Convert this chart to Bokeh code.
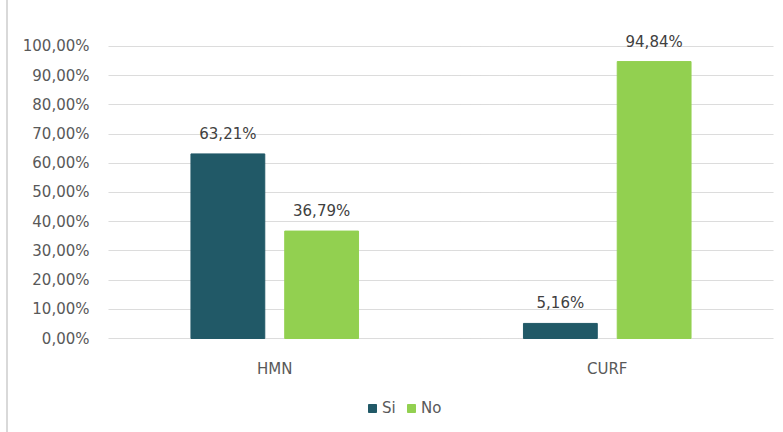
from bokeh.plotting import figure
from bokeh.models import (ColumnDataSource, FactorRange, Range1d, FixedTicker,
                          Legend, LegendItem)
from bokeh.transform import dodge
from bokeh.core.properties import value
from bokeh.embed import file_html
from bokeh.resources import INLINE

categories = ["HMN", "CURF"]
si_values = [63.21, 5.16]
no_values = [36.79, 94.84]
y_ticks = [0, 10, 20, 30, 40, 50, 60, 70, 80, 90, 100]

FONT = "DejaVu Sans"
FONT_SIZE = "15px"
SI_COLOR = "#215967"
NO_COLOR = "#92D050"
TEXT_COLOR = "#595959"


def pct(v):
    return f"{v:.2f}".replace(".", ",") + "%"


src = ColumnDataSource(dict(
    cat=categories,
    si=si_values,
    no=no_values,
    si_lbl=[pct(v) for v in si_values],
    no_lbl=[pct(v) for v in no_values],
))

# the frame runs to the bottom edge so the category labels and the legend
# can sit below the 0% line; headroom on top keeps the tallest label visible
y_start, y_end = -32.19, 108.9

p = figure(
    width=775, height=432,
    x_range=FactorRange(factors=categories, range_padding=0),
    y_range=Range1d(y_start, y_end),
    output_backend="svg", toolbar_location=None,
    min_border_left=100, min_border_right=10,
    min_border_top=20, min_border_bottom=0,
    outline_line_color=None,
)
# thin grey rule along the left edge of the chart
p.styles = {"margin-left": "6px", "border-left": "2px solid #d9d9d9"}

bar_w = 0.222
off = 0.141
r_si = p.vbar(x=dodge("cat", -off, range=p.x_range), top="si", bottom=0,
              width=bar_w, source=src, fill_color=SI_COLOR, line_color=SI_COLOR)
r_no = p.vbar(x=dodge("cat", off, range=p.x_range), top="no", bottom=0,
              width=bar_w, source=src, fill_color=NO_COLOR, line_color=NO_COLOR)

# value labels above each bar
for key, lbl, o in (("si", "si_lbl", -off), ("no", "no_lbl", off)):
    p.text(x=dodge("cat", o, range=p.x_range), y=key, text=lbl, source=src,
           text_align="center", text_baseline="bottom", y_offset=-11,
           text_font=value(FONT), text_font_size=FONT_SIZE, text_color="#404040")

# axes
p.yaxis.ticker = FixedTicker(ticks=y_ticks)
p.yaxis.major_label_overrides = {t: pct(t) for t in y_ticks}
p.yaxis.axis_line_color = None
p.yaxis.major_tick_line_color = None
p.yaxis.minor_tick_line_color = None
p.yaxis.major_label_text_font = FONT
p.yaxis.major_label_text_font_size = FONT_SIZE
p.yaxis.major_label_text_color = TEXT_COLOR
p.yaxis.major_label_standoff = 13

p.xaxis.fixed_location = 0
p.xaxis.axis_line_color = None
p.xaxis.major_tick_line_color = None
p.xaxis.major_tick_out = 0
p.xaxis.major_tick_in = 0
p.xaxis.major_label_text_font = FONT
p.xaxis.major_label_text_font_size = FONT_SIZE
p.xaxis.major_label_text_color = TEXT_COLOR
p.xaxis.major_label_standoff = 21

p.xgrid.grid_line_color = None
p.ygrid.grid_line_color = "#b8b8b8"
p.ygrid.grid_line_dash = "1 1"
p.ygrid.grid_line_width = 1

# legend under the category labels
legend = Legend(
    items=[LegendItem(label="Si", renderers=[r_si]),
           LegendItem(label="No", renderers=[r_no])],
    orientation="horizontal", location=(259, 15),
    background_fill_alpha=0, border_line_color=None,
    label_text_font=FONT, label_text_font_size=FONT_SIZE,
    label_text_color=TEXT_COLOR, glyph_width=10, glyph_height=10,
    label_standoff=5, spacing=4, padding=0, margin=0,
)
p.add_layout(legend, "center")

p.background_fill_color = "white"
p.border_fill_color = "white"

open("out.html", "w").write(file_html(p, INLINE))
